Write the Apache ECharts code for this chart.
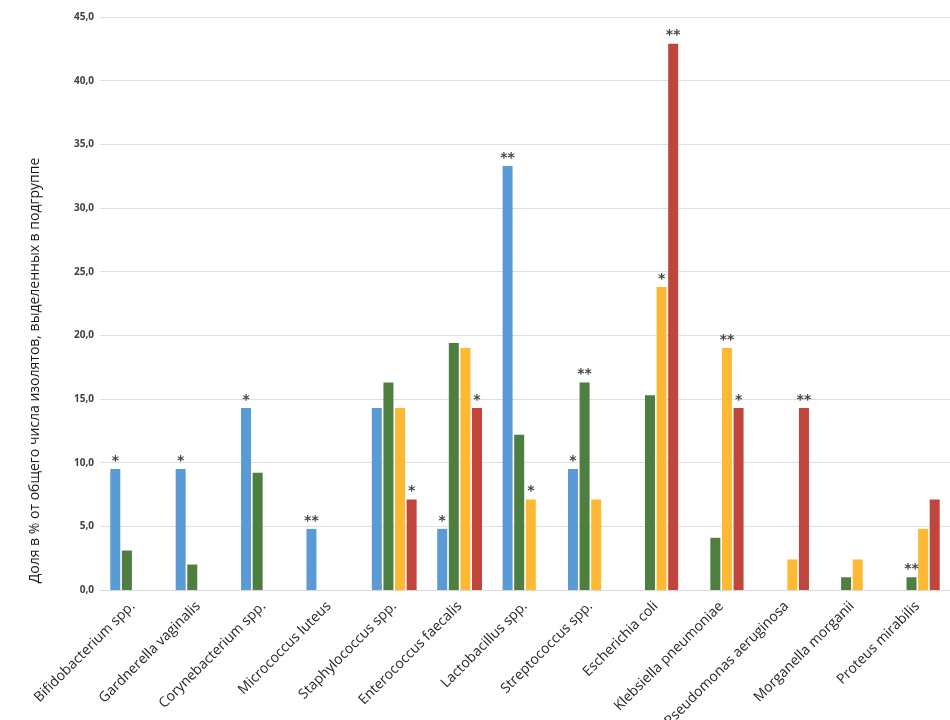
<!DOCTYPE html>
<html>
<head>
<meta charset="utf-8">
<script src="https://cdn.jsdelivr.net/npm/echarts@6/dist/echarts.min.js"></script>
<style>
  html, body { margin: 0; padding: 0; background: #fff; }
  #chart { width: 950px; height: 720px; }
</style>
</head>
<body>
<div id="chart"></div>
<script>
  var categories = ['Bifidobacterium spp.', 'Gardnerella vaginalis', 'Corynebacterium spp.', 'Micrococcus luteus',
    'Staphylococcus spp.', 'Enterococcus faecalis', 'Lactobacillus spp.', 'Streptococcus spp.', 'Escherichia coli',
    'Klebsiella pneumoniae', 'Pseudomonas aeruginosa', 'Morganella morganii', 'Proteus mirabilis'];

  var blueValues   = [9.5, 9.5, 14.3, 4.8, 14.3, 4.8, 33.3, 9.5, 0, 0, 0, 0, 0];
  var greenValues  = [3.1, 2.0, 9.2, 0, 16.3, 19.4, 12.2, 16.3, 15.3, 4.1, 0, 1.0, 1.0];
  var yellowValues = [0, 0, 0, 0, 14.3, 19.0, 7.1, 7.1, 23.8, 19.0, 2.4, 2.4, 4.8];
  var redValues    = [0, 0, 0, 0, 7.1, 14.3, 0, 0, 42.9, 14.3, 14.3, 0, 7.1];

  // значимость (звёздочки над столбцами)
  var blueMarks   = ['*', '*', '*', '**', '', '*', '**', '*', '', '', '', '', ''];
  var greenMarks  = ['', '', '', '', '', '', '', '**', '', '', '', '', '**'];
  var yellowMarks = ['', '', '', '', '', '', '*', '', '*', '**', '', '', ''];
  var redMarks    = ['', '', '', '', '*', '*', '', '', '**', '*', '**', '', ''];

  var yTicks = [0, 5, 10, 15, 20, 25, 30, 35, 40, 45];

  function makeSeries(name, values, marks, color) {
    return {
      name: name,
      type: 'bar',
      barWidth: 10,
      barGap: '16%',
      itemStyle: { color: color },
      label: {
        show: true,
        position: 'top',
        distance: 1,
        color: '#444',
        fontSize: 14,
        fontWeight: 'bold',
        fontFamily: 'DejaVu Sans',
        formatter: function (p) { return marks[p.dataIndex]; }
      },
      data: values
    };
  }

  var myChart = echarts.init(document.getElementById('chart'));
  myChart.setOption({
    animation: false,
    textStyle: { fontFamily: 'Open Sans' },
    grid: { left: 100, right: 0, top: 17, bottom: 130, containLabel: false, outerBoundsMode: 'none' },
    xAxis: {
      type: 'category',
      data: categories,
      axisTick: { show: false },
      axisLine: { lineStyle: { color: '#d9d9d9' } },
      axisLabel: {
        interval: 0,
        rotate: 45,
        margin: 14,
        fontSize: 14,
        color: '#262626',
        fontFamily: 'Open Sans'
      }
    },
    yAxis: {
      type: 'value',
      min: yTicks[0],
      max: yTicks[yTicks.length - 1],
      interval: 5,
      name: 'Доля в % от общего числа изолятов, выделенных в подгруппе',
      nameLocation: 'middle',
      nameGap: 58,
      nameTextStyle: {
        fontSize: 14,
        color: '#1a1a1a',
        fontFamily: 'Open Sans',
        padding: [0, 134, 0, 0]
      },
      axisLine: { show: false },
      axisTick: { show: false },
      splitLine: { lineStyle: { color: '#e0e0e0' } },
      axisLabel: {
        margin: 6,
        fontSize: 10,
        color: '#404040',
        fontWeight: 'bold',
        formatter: function (v) { return v.toFixed(1).replace('.', ','); }
      }
    },
    series: [
      makeSeries('s1', blueValues, blueMarks, '#5b9bd5'),
      makeSeries('s2', greenValues, greenMarks, '#4e7f40'),
      makeSeries('s3', yellowValues, yellowMarks, '#fdb933'),
      makeSeries('s4', redValues, redMarks, '#c0463d')
    ]
  });
</script>
</body>
</html>
